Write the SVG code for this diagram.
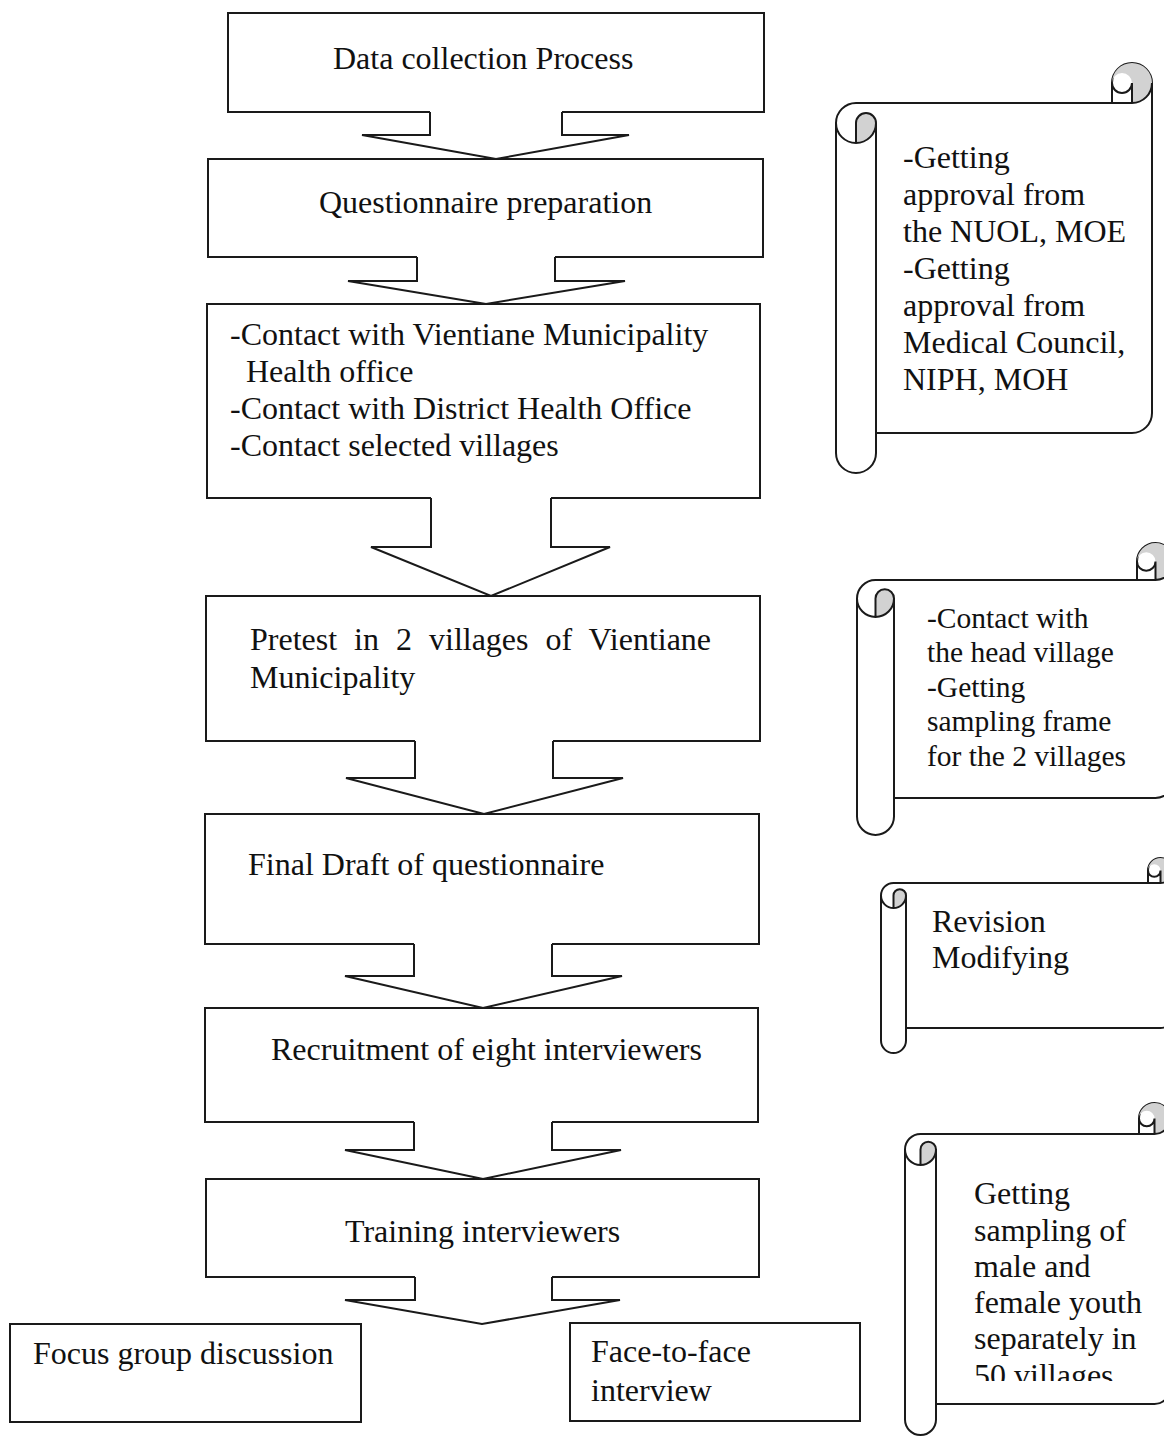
<svg xmlns="http://www.w3.org/2000/svg" width="1164" height="1437" viewBox="0 0 1164 1437">
<style>
.box{fill:#fff;stroke:#1a1a1a;stroke-width:2}
.t{font-family:"Liberation Serif","Times New Roman",serif;font-size:32px;fill:#111}
.s2{font-size:29.5px}
.af{fill:#fff;stroke:none}
.as{fill:none;stroke:#1a1a1a;stroke-width:2;stroke-linejoin:miter}
.sc{fill:#fff;stroke:#1a1a1a;stroke-width:2;stroke-linejoin:round}
.sh{fill:#d2d2d2;stroke:none}
.sd{fill:none;stroke:#1a1a1a;stroke-width:2}
</style>
<defs>
<clipPath id="clip4"><rect x="940" y="1140" width="224" height="241"/></clipPath>
</defs>
<rect width="1164" height="1437" fill="#fff"/>

<g id="box1"><rect class="box" x="228" y="13" width="536" height="99"/><text class="t" x="333" y="69">Data collection Process</text></g>
<g id="box2"><rect class="box" x="208" y="159" width="555" height="98"/><text class="t" x="319" y="213">Questionnaire preparation</text></g>
<g id="box3"><rect class="box" x="207" y="304" width="553" height="194"/>
<text class="t" x="230" y="345">-Contact with Vientiane Municipality</text>
<text class="t" x="246" y="382">Health office</text>
<text class="t" x="230" y="419">-Contact with District Health Office</text>
<text class="t" x="230" y="456">-Contact selected villages</text></g>
<g id="box4"><rect class="box" x="206" y="596" width="554" height="145"/>
<text class="t" x="250" y="650" word-spacing="9">Pretest in 2 villages of Vientiane</text>
<text class="t" x="250" y="688">Municipality</text></g>
<g id="box5"><rect class="box" x="205" y="814" width="554" height="130"/><text class="t" x="248" y="875">Final Draft of questionnaire</text></g>
<g id="box6"><rect class="box" x="205" y="1008" width="553" height="114"/><text class="t" x="271" y="1060">Recruitment of eight interviewers</text></g>
<g id="box7"><rect class="box" x="206" y="1179" width="553" height="98"/><text class="t" x="345" y="1242">Training interviewers</text></g>
<g id="focus"><rect class="box" x="10" y="1324" width="351" height="98"/><text class="t" x="33" y="1364">Focus group discussion</text></g>
<g id="face"><rect class="box" x="570" y="1323" width="290" height="98"/><text class="t" x="591" y="1362">Face-to-face</text><text class="t" x="591" y="1401">interview</text></g>

<g id="connectors">
<path class="af" d="M430,110 V135 H362 L496,159 L629,135 H562 V110 Z"/>
<path class="as" d="M430,112 V135 H362 L496,159 L629,135 H562 V112"/>
<path class="af" d="M417,255 V281 H348 L486,304 L625,281 H555 V255 Z"/>
<path class="as" d="M417,257 V281 H348 L486,304 L625,281 H555 V257"/>
<path class="af" d="M431,496 V547 H371 L491,596 L610,547 H551 V496 Z"/>
<path class="as" d="M431,498 V547 H371 L491,596 L610,547 H551 V498"/>
<path class="af" d="M415,739 V778 H346 L484,814 L623,778 H553 V739 Z"/>
<path class="as" d="M415,741 V778 H346 L484,814 L623,778 H553 V741"/>
<path class="af" d="M414,942 V976 H345 L483,1008 L622,976 H552 V942 Z"/>
<path class="as" d="M414,944 V976 H345 L483,1008 L622,976 H552 V944"/>
<path class="af" d="M414,1120 V1150 H345 L483,1179 L621,1150 H552 V1120 Z"/>
<path class="as" d="M414,1122 V1150 H345 L483,1179 L621,1150 H552 V1122"/>
<path class="af" d="M415,1275 V1300 H345 L482,1324 L620,1300 H552 V1275 Z"/>
<path class="as" d="M415,1277 V1300 H345 L482,1324 L620,1300 H552 V1277"/>
</g>

<g id="scroll1">
<path class="sc" d="M836,123 A20,20 0 0 1 856,103 L1112,103 L1112,83 A20,20 0 0 1 1152,83 L1152,413 A20,20 0 0 1 1132,433 L876,433 L876,453 A20,20 0 0 1 836,453 Z"/>
<path class="sh" d="M856,143 A20,20 0 0 0 876,123 A10,10 0 0 0 856,123 Z"/>
<path class="sh" d="M1132,103 A20,20 0 1 0 1112,83 A10,10 0 0 1 1132,83 Z"/>
<path class="sd" d="M1112,103 L1132,103 A20,20 0 0 0 1152,83 M1132,103 L1132,83 A10,10 0 0 1 1112,83 M856,143 L856,123 A10,10 0 0 1 876,123 A20,20 0 0 1 836,123 M876,123 L876,433"/>
<text class="t" x="903" y="168">-Getting</text>
<text class="t" x="903" y="205">approval from</text>
<text class="t" x="903" y="242">the NUOL, MOE</text>
<text class="t" x="903" y="279">-Getting</text>
<text class="t" x="903" y="316">approval from</text>
<text class="t" x="903" y="353">Medical Council,</text>
<text class="t" x="903" y="390">NIPH, MOH</text>
</g>

<g id="scroll2">
<path class="sc" d="M857,598.5 A18.5,18.5 0 0 1 875.5,580 L1137,580 L1137,561.5 A18.5,18.5 0 0 1 1174,561.5 L1174,779.5 A18.5,18.5 0 0 1 1155.5,798 L894,798 L894,816.5 A18.5,18.5 0 0 1 857,816.5 Z"/>
<path class="sh" d="M875.5,617 A18.5,18.5 0 0 0 894,598.5 A9.25,9.25 0 0 0 875.5,598.5 Z"/>
<path class="sh" d="M1155.5,580 A18.5,18.5 0 1 0 1137,561.5 A9.25,9.25 0 0 1 1155.5,561.5 Z"/>
<path class="sd" d="M1137,580 L1155.5,580 A18.5,18.5 0 0 0 1174,561.5 M1155.5,580 L1155.5,561.5 A9.25,9.25 0 0 1 1137,561.5 M875.5,617 L875.5,598.5 A9.25,9.25 0 0 1 894,598.5 A18.5,18.5 0 0 1 857,598.5 M894,598.5 L894,798"/>
<text class="t s2" x="927" y="628">-Contact with</text>
<text class="t s2" x="927" y="662">the head village</text>
<text class="t s2" x="927" y="697">-Getting</text>
<text class="t s2" x="927" y="731">sampling frame</text>
<text class="t s2" x="927" y="766">for the 2 villages</text>
</g>

<g id="scroll3">
<path class="sc" d="M881,895.5 A12.5,12.5 0 0 1 893.5,883 L1148,883 L1148,870.5 A12.5,12.5 0 0 1 1173,870.5 L1173,1015.5 A12.5,12.5 0 0 1 1160.5,1028 L906,1028 L906,1040.5 A12.5,12.5 0 0 1 881,1040.5 Z"/>
<path class="sh" d="M893.5,908 A12.5,12.5 0 0 0 906,895.5 A6.25,6.25 0 0 0 893.5,895.5 Z"/>
<path class="sh" d="M1160.5,883 A12.5,12.5 0 1 0 1148,870.5 A6.25,6.25 0 0 1 1160.5,870.5 Z"/>
<path class="sd" d="M1148,883 L1160.5,883 A12.5,12.5 0 0 0 1173,870.5 M1160.5,883 L1160.5,870.5 A6.25,6.25 0 0 1 1148,870.5 M893.5,908 L893.5,895.5 A6.25,6.25 0 0 1 906,895.5 A12.5,12.5 0 0 1 881,895.5 M906,895.5 L906,1028"/>
<text class="t" x="932" y="932">Revision</text>
<text class="t" x="932" y="968">Modifying</text>
</g>

<g id="scroll4">
<path class="sc" d="M905,1149.5 A15.5,15.5 0 0 1 920.5,1134 L1139,1134 L1139,1118.5 A15.5,15.5 0 0 1 1170,1118.5 L1170,1388.5 A15.5,15.5 0 0 1 1154.5,1404 L936,1404 L936,1419.5 A15.5,15.5 0 0 1 905,1419.5 Z"/>
<path class="sh" d="M920.5,1165 A15.5,15.5 0 0 0 936,1149.5 A7.75,7.75 0 0 0 920.5,1149.5 Z"/>
<path class="sh" d="M1154.5,1134 A15.5,15.5 0 1 0 1139,1118.5 A7.75,7.75 0 0 1 1154.5,1118.5 Z"/>
<path class="sd" d="M1139,1134 L1154.5,1134 A15.5,15.5 0 0 0 1170,1118.5 M1154.5,1134 L1154.5,1118.5 A7.75,7.75 0 0 1 1139,1118.5 M920.5,1165 L920.5,1149.5 A7.75,7.75 0 0 1 936,1149.5 A15.5,15.5 0 0 1 905,1149.5 M936,1149.5 L936,1404"/>
<g clip-path="url(#clip4)">
<text class="t" x="974" y="1204">Getting</text>
<text class="t" x="974" y="1241">sampling of</text>
<text class="t" x="974" y="1277">male and</text>
<text class="t" x="974" y="1313">female youth</text>
<text class="t" x="974" y="1349">separately in</text>
<text class="t" x="974" y="1386">50 villages</text>
</g>
</g>
</svg>
